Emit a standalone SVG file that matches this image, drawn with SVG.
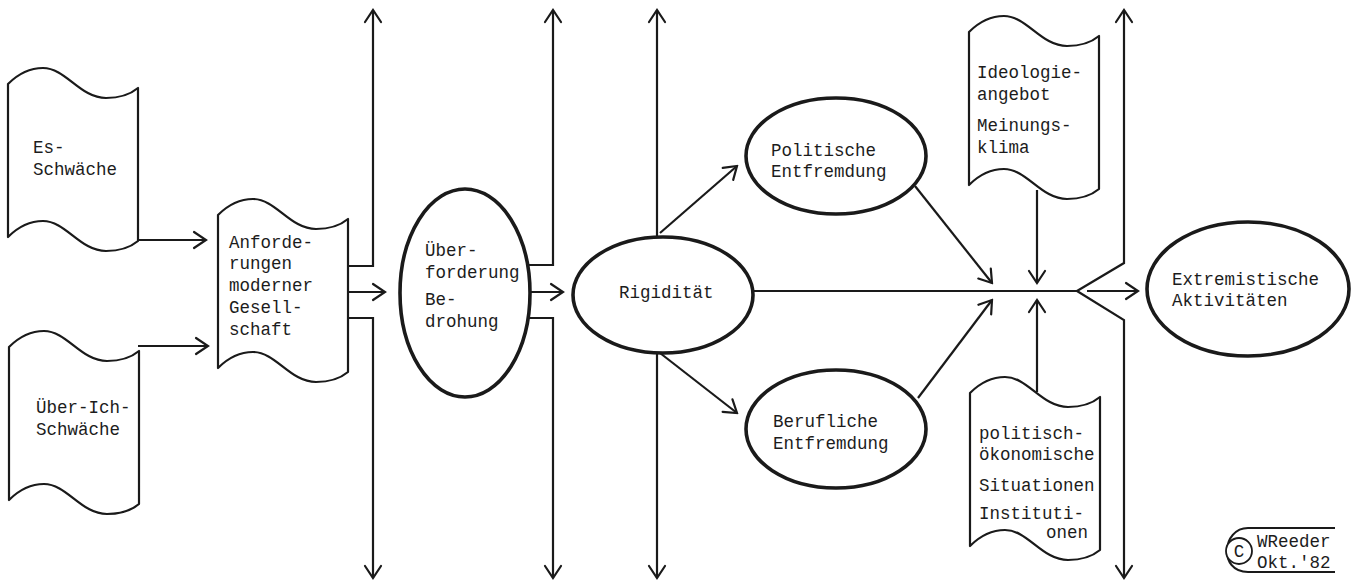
<svg xmlns="http://www.w3.org/2000/svg" width="1355" height="584" viewBox="0 0 1355 584">
<style>
.doc{fill:#fff;stroke:#1a1a1a;stroke-width:2.2;stroke-linejoin:round}
.ell{fill:#fff;stroke:#1a1a1a;stroke-width:3.6}
.ln{fill:none;stroke:#1a1a1a;stroke-width:2.2;stroke-linejoin:miter}
.ar{marker-end:url(#ah)}
text{font-family:"Liberation Mono","DejaVu Sans Mono",monospace;font-size:17.5px;fill:#1c1c1c}
</style>
<defs>
<marker id="ah" viewBox="0 0 16 20" refX="14" refY="10" markerWidth="16" markerHeight="20" markerUnits="userSpaceOnUse" orient="auto">
<path d="M2,2 L14,10 L2,18" fill="none" stroke="#1a1a1a" stroke-width="2.2" stroke-linecap="round" stroke-linejoin="miter"/>
</marker>
<path id="docshape" d="M0,0 C10,-10 22,-16 35,-16 C58,-16 72,14 98,14 C113,14 124,9 130,4 L130,157 C124,162 113,167 98,167 C72,167 58,137 35,137 C22,137 10,143 0,153 Z"/>
</defs>
<rect width="1355" height="584" fill="#fff"/>

<g id="connectors">
<path class="ln ar" d="M138,240 H206"/>
<path class="ln ar" d="M138,346 H208"/>
<path class="ln ar" d="M347,266 H373 V10"/>
<path class="ln ar" d="M347,318 H373 V578"/>
<path class="ln ar" d="M347,292 H385"/>
<path class="ln ar" d="M527,265 H553 V10"/>
<path class="ln ar" d="M527,318 H553 V578"/>
<path class="ln ar" d="M530,292 H563"/>
<path class="ln ar" d="M657,237 V10"/>
<path class="ln ar" d="M657,353 V578"/>
<path class="ln ar" d="M660,233 L737,166"/>
<path class="ln ar" d="M660,353 L737,413"/>
<path class="ln" d="M753,291 H1077"/>
<path class="ln ar" d="M915,186 L992,283"/>
<path class="ln ar" d="M918,398 L992,300"/>
<path class="ln ar" d="M1037,190 V283"/>
<path class="ln ar" d="M1037,392 V300"/>
<path class="ln ar" d="M1077,291 L1124,263 V10"/>
<path class="ln ar" d="M1077,291 L1124,320 V578"/>
<path class="ln ar" d="M1087,291 H1138"/>
</g>

<g id="es-schwaeche">
<use href="#docshape" class="doc" transform="translate(8,84)"/>
<text x="33" y="153">Es-</text>
<text x="33" y="175">Schwäche</text>
</g>

<g id="ueber-ich-schwaeche">
<use href="#docshape" class="doc" transform="translate(9,347)"/>
<text x="36" y="413">Über-Ich-</text>
<text x="36" y="435">Schwäche</text>
</g>

<g id="anforderungen">
<use href="#docshape" class="doc" transform="translate(218,215)"/>
<text x="229" y="248">Anforde-</text>
<text x="229" y="269">rungen</text>
<text x="229" y="291">moderner</text>
<text x="229" y="313">Gesell-</text>
<text x="229" y="335">schaft</text>
</g>

<g id="ueberforderung">
<ellipse class="ell" cx="465" cy="293" rx="65" ry="104" stroke-width="4.2"/>
<text x="425" y="256">Über-</text>
<text x="425" y="278">forderung</text>
<text x="425" y="305">Be-</text>
<text x="425" y="327">drohung</text>
</g>

<g id="rigiditaet">
<ellipse class="ell" cx="663" cy="295" rx="90" ry="58"/>
<text x="619" y="298">Rigidität</text>
</g>

<g id="politische-entfremdung">
<ellipse class="ell" cx="836" cy="156" rx="90" ry="58"/>
<text x="771" y="156">Politische</text>
<text x="771" y="177">Entfremdung</text>
</g>

<g id="berufliche-entfremdung">
<ellipse class="ell" cx="836" cy="429" rx="90" ry="59"/>
<text x="773" y="427">Berufliche</text>
<text x="773" y="449">Entfremdung</text>
</g>

<g id="ideologieangebot">
<use href="#docshape" class="doc" transform="translate(969,32)"/>
<text x="977" y="78">Ideologie-</text>
<text x="977" y="100">angebot</text>
<text x="977" y="131">Meinungs-</text>
<text x="977" y="153">klima</text>
</g>

<g id="politisch-oekonomische">
<use href="#docshape" class="doc" transform="translate(970,393)"/>
<text x="979" y="439">politisch-</text>
<text x="979" y="460">ökonomische</text>
<text x="979" y="491">Situationen</text>
<text x="979" y="519">Instituti-</text>
<text x="1046" y="538">onen</text>
</g>

<g id="extremistische-aktivitaeten">
<ellipse class="ell" cx="1248" cy="289" rx="101" ry="67" stroke-width="4.2"/>
<text x="1172" y="285">Extremistische</text>
<text x="1172" y="306">Aktivitäten</text>
</g>

<g id="copyright">
<path class="ln" d="M1335,528 H1248 C1222,528 1218,572 1248,572 H1335" stroke-width="1.8"/>
<circle cx="1239" cy="551" r="13" fill="#fff" stroke="#1a1a1a" stroke-width="1.8"/>
<text x="1239" y="557" text-anchor="middle" font-size="15">C</text>
<text x="1257" y="547">WReeder</text>
<text x="1257" y="568">Okt.'82</text>
</g>
</svg>
